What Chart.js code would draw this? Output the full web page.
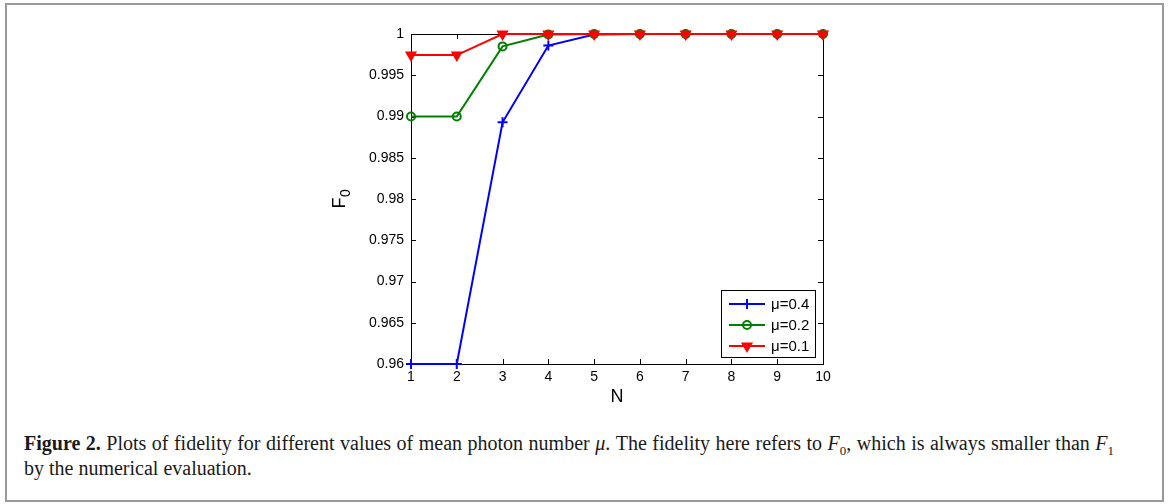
<!DOCTYPE html>
<html>
<head>
<meta charset="utf-8">
<script src="https://cdn.jsdelivr.net/npm/chart.js@4/dist/chart.umd.min.js"></script>
<style>
body{margin:0;background:#fff;width:1168px;height:504px;overflow:hidden;position:relative}
#frame{position:absolute;left:5px;top:3px;width:1155px;height:495px;border:2px solid #999}
#wrap{position:absolute;left:0;top:0;width:1168px;height:410px}
#cap{position:absolute;left:24px;top:431px;width:1090px;font-family:"Liberation Serif",serif;font-size:20px;line-height:25px;color:#1a1a1a}
#cap .l1{text-align:justify;text-align-last:justify;white-space:nowrap}
sub{font-size:13px;line-height:0}
</style>
</head>
<body>
<div id="frame"></div>
<div id="wrap"><canvas id="c"></canvas></div>
<div id="cap">
<div class="l1"><b>Figure 2.</b> Plots of fidelity for different values of mean photon number <i>μ</i>. The fidelity here refers to <i>F</i><sub>0</sub>, which is always smaller than <i>F</i><sub>1</sub></div>
<div>by the numerical evaluation.</div>
</div>
<script>

let N = [1,2,3,4,5,6,7,8,9,10]
let mu04 = [0.96,0.96,0.9893,0.9986,0.99995,1,1,1,1,1]
let mu02 = [0.990,0.990,0.9985,0.99995,1,1,1,1,1,1]
let mu01 = [0.99745,0.99745,1,1,1,1,1,1,1,1]
let labels = ["μ=0.4","μ=0.2","μ=0.1"]

function pts(ys){
return N.map((x,i)=>({x:x,y:ys[i]}))
}

// MATLAB-like box with inward ticks and axis titles, legend on top
let boxPlugin = {
id:"box",
beforeDatasetsDraw(chart){
let ctx = chart.ctx
let a = chart.chartArea
let sx = chart.scales.x
let sy = chart.scales.y
ctx.save()
ctx.strokeStyle = "#000"
ctx.lineWidth = 1
ctx.beginPath()
sy.ticks.forEach(t=>{
let y = Math.round(sy.getPixelForValue(t.value))+0.5
ctx.moveTo(a.left,y);ctx.lineTo(a.left+5,y)
ctx.moveTo(a.right,y);ctx.lineTo(a.right-5,y)
})
sx.ticks.forEach(t=>{
let x = Math.round(sx.getPixelForValue(t.value))+0.5
ctx.moveTo(x,a.bottom);ctx.lineTo(x,a.bottom-5)
ctx.moveTo(x,a.top);ctx.lineTo(x,a.top+5)
})
ctx.stroke()
ctx.strokeRect(Math.round(a.left)+0.5,Math.round(a.top)+0.5,Math.round(a.right-a.left),Math.round(a.bottom-a.top))

ctx.fillStyle = "#000"
ctx.font = "18px 'Liberation Sans', Arial, sans-serif"
ctx.textAlign = "center"
ctx.textBaseline = "middle"
ctx.fillText("N",(a.left+a.right)/2,a.bottom+33)
ctx.translate(a.left-71,(a.top+a.bottom)/2)
ctx.rotate(-Math.PI/2)
ctx.fillText("F",-4,0)
ctx.font = "14px 'Liberation Sans', Arial, sans-serif"
ctx.fillText("0",6,6)
ctx.restore()
},
afterDraw(chart){
let ctx = chart.ctx
let a = chart.chartArea
ctx.save()
let w = 94, h = 67
let lx = a.right-102, ly = a.bottom-74
ctx.fillStyle = "#fff"
ctx.fillRect(lx,ly,w,h)
ctx.strokeStyle = "#000"
ctx.lineWidth = 1
ctx.strokeRect(lx+0.5,ly+0.5,w,h)
ctx.textBaseline = "middle"
chart.data.datasets.forEach((ds,i)=>{
let y = ly+14+i*21
ctx.strokeStyle = ds.borderColor
ctx.lineWidth = 2
ctx.beginPath()
ctx.moveTo(lx+8,y);ctx.lineTo(lx+44,y)
ctx.stroke()
ctx.fillStyle = ds.pointBackgroundColor
Chart.helpers.drawPoint(ctx,{pointStyle:ds.pointStyle,radius:ds.pointRadius,rotation:ds.pointRotation||0,borderWidth:ds.pointBorderWidth},lx+26,y)
ctx.fillStyle = "#000"
ctx.font = "15px 'Liberation Sans', Arial, sans-serif"
ctx.textAlign = "left"
ctx.fillText(labels[i],lx+50,y+1)
})
ctx.restore()
}
}

new Chart(document.getElementById("c"),{
type:"line",
data:{
datasets:[
{
label:labels[0],
data:pts(mu04),
borderColor:"#0000ff",
borderWidth:2,
pointStyle:"cross",
pointRadius:5,
pointBorderWidth:2,
pointBorderColor:"#0000ff",
pointBackgroundColor:"#0000ff",
clip:false,
order:2
},
{
label:labels[1],
data:pts(mu02),
borderColor:"#008000",
borderWidth:2,
pointStyle:"circle",
pointRadius:4,
pointBorderWidth:2,
pointBorderColor:"#008000",
pointBackgroundColor:"rgba(0,0,0,0)",
clip:false,
order:1
},
{
label:labels[2],
data:pts(mu01),
borderColor:"#ff0000",
borderWidth:2,
pointStyle:"triangle",
pointRotation:180,
pointRadius:5,
pointBorderWidth:2,
pointBorderColor:"#ff0000",
pointBackgroundColor:"#ff0000",
clip:false,
order:0
}
]
},
options:{
responsive:true,
maintainAspectRatio:false,
animation:false,
events:[],
layout:{padding:{left:0,top:34,right:345,bottom:0}},
plugins:{legend:{display:false},tooltip:{enabled:false}},
scales:{
x:{
type:"linear",
min:1,max:10,
grid:{display:false,drawTicks:false},
border:{display:false},
ticks:{stepSize:1,padding:5,color:"#000",font:{size:14,family:"'Liberation Sans', Arial, sans-serif"}},
afterFit(s){s.height=46}
},
y:{
type:"linear",
min:0.96,max:1,
grid:{display:false,drawTicks:false},
border:{display:false},
ticks:{stepSize:0.005,padding:7,color:"#000",font:{size:14,family:"'Liberation Sans', Arial, sans-serif"},
callback:v=>String(+v.toFixed(3))},
afterFit(s){s.width=411}
}
}
},
plugins:[boxPlugin]
})

</script>
</body>
</html>
